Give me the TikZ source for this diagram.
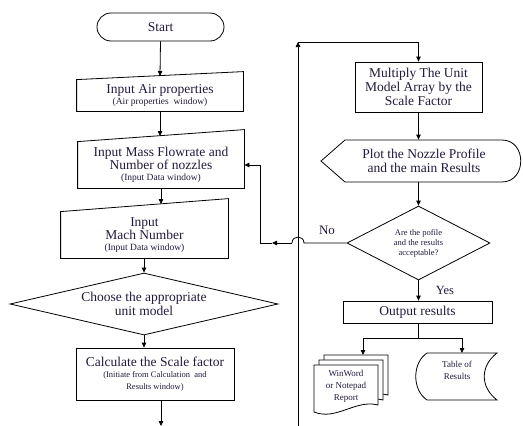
\documentclass[tikz,border=0pt]{standalone}
\usepackage{fontspec}
\setmainfont{Liberation Serif}
\usetikzlibrary{shapes.geometric,shapes.misc,arrows.meta,calc}
\definecolor{txt}{RGB}{35,25,60}
\begin{document}
\begin{tikzpicture}[x=1pt,y=-1pt,
  line width=0.8pt,
  arr/.style={-{Triangle[length=5pt,width=4.5pt]}},
  big/.style={font=\fontsize{13.5}{14}\selectfont},
  sm/.style={font=\fontsize{9.5}{11}\selectfont},
  tiny/.style={font=\fontsize{8.5}{10}\selectfont},
  lbl/.style={text=txt, align=center, inner sep=0pt},
  region/.style={lbl, rectangle},
  boxd/.style={lbl, rectangle, draw}]
\useasboundingbox (0,0) rectangle (523,426);

% ---------- left column ----------
\node[draw, rounded rectangle, minimum width=127pt, minimum height=28pt, lbl, big] (start) at (160.5,27) {Start};

\node[region, minimum width=166pt, minimum height=31pt] (air) at (160,95.5)
  {{\fontsize{13.5}{14}\selectfont Input Air properties}\\[-1pt]{\fontsize{9.5}{11}\selectfont (Air properties\ \ window)}};
\draw (air.north west) -- ($(air.north east)+(0,-8)$) -- (air.south east) -- (air.south west) -- cycle;
\coordinate (airin) at (160,76);

\node[region, minimum width=166pt, minimum height=46pt] (mass) at (161,165)
  {{\fontsize{13.5}{14}\selectfont Input Mass Flowrate and}\\{\fontsize{13.5}{14}\selectfont Number of nozzles}\\[-1pt]{\fontsize{9.5}{11}\selectfont (Input Data window)}};
\draw (mass.north west) -- ($(mass.north east)+(0,-12)$) -- (mass.south east) -- (mass.south west) -- cycle;
\coordinate (massin) at (160,136);

\node[region, minimum width=167pt, minimum height=46pt] (mach) at (144.5,235)
  {{\fontsize{13.5}{14}\selectfont Input}\\{\fontsize{13.5}{14}\selectfont Mach Number}\\[-1pt]{\fontsize{9.5}{11}\selectfont (Input Data window)}};
\draw (mach.north west) -- ($(mach.north east)+(0,-13)$) -- (mach.south east) -- (mach.south west) -- cycle;
\coordinate (machin) at (161,204);

\node[draw, diamond, shape aspect=4.3, minimum width=268pt, minimum height=62pt, lbl, big] (choose) at (144,304)
  {Choose the appropriate\\unit model};

\node[boxd, minimum width=158pt, minimum height=52pt] (calc) at (155,374)
  {{\fontsize{13.5}{14}\selectfont Calculate the Scale factor}\\[-1pt]{\fontsize{8.5}{10}\selectfont (Initiate from Calculation\ \ and}\\{\fontsize{8.5}{10}\selectfont Results window)}};
\coordinate (calcout) at (161,400);
\coordinate (calcend) at (161,426);

\draw[arr] (start.south) -- (airin);
\draw[arr] (air.south) -- (massin);
\draw[arr] (mass.south) -- (machin);
\draw[arr] (mach.south -| choose.north) -- (choose.north);
\draw[arr] (choose.south) -- (choose.south |- calc.north);
\draw[arr] (calcout) -- (calcend);

% ---------- right column ----------
\coordinate (vbot) at (298,426);
\coordinate (vtop) at (298,42);

\node[boxd, big, minimum width=127pt, minimum height=50pt] (mult) at (418.5,87)
  {Multiply The Unit\\Model Array by the\\Scale Factor};

\node[lbl, big, minimum height=42pt] (plot) at (424,161)
  {Plot the Nozzle Profile\\and the main Results};
\draw (321,161) -- (345,140) -- (502,140) .. controls (527,140) and (527,182) .. (502,182) -- (345,182) -- cycle;
\coordinate (plotout) at (418.5,182);

\node[draw, diamond, shape aspect=1.9, minimum width=143pt, minimum height=74pt, lbl, tiny] (accept) at (418.5,243)
  {Are the pofile\\and the results\\acceptable?};

\node[boxd, big, minimum width=149pt, minimum height=22pt] (out) at (417.5,312) {Output results};

\node[lbl, font=\fontsize{13}{14}\selectfont] (no) at (327,230) {No};
\node[lbl, font=\fontsize{12.5}{14}\selectfont] (yes) at (445,290) {Yes};

\draw[arr] (vbot) -- (vtop);
\draw[arr] (vtop) -| (mult.north);
\draw[arr] (mult.south) -- (mult.south |- plot.north);
\draw[arr] (plotout) -- (accept.north);
\draw[arr] (accept.south) -- (accept.south |- out.north);

% No branch with bridge
\coordinate (jr) at (304,243);
\coordinate (jl) at (292,243);
\coordinate (na) at (272,243);
\coordinate (nc) at (260,243);
\draw (accept.west) -- (jr) .. controls (304,235) and (292,235) .. (jl);
\draw[arr] (jl) -- (na);
\draw[arr] (na) -- (nc) |- (mass.east);

% output branches
\coordinate (split) at (418.5,338);
\coordinate (docsin) at (363,355);
\coordinate (tabin) at (462,353);
\draw (accept.south |- out.south) -- (split);
\draw[arr] (split) -| (docsin);
\draw[arr] (split) -| (tabin);

% multi-document
\foreach \x/\y in {324/355, 319/360, 314/365}{
  \draw[fill=white] (\x,\y) -- ++(64,0) -- ++(0,40)
    .. controls +(-22,-6) and +(22,9) .. ++(-64,7) -- cycle;
}
\node[lbl, font=\fontsize{9}{12}\selectfont] (docs) at (346,386) {WinWord\\or Notepad\\Report};

% stored data
\draw (427,353) -- (497,353) .. controls (480,366) and (480,387) .. (497,400)
  -- (427,400) .. controls (412,390) and (412,363) .. (427,353) -- cycle;
\node[lbl, font=\fontsize{9}{12}\selectfont] (tab) at (457,370) {Table of\\Results};
\end{tikzpicture}
\end{document}
